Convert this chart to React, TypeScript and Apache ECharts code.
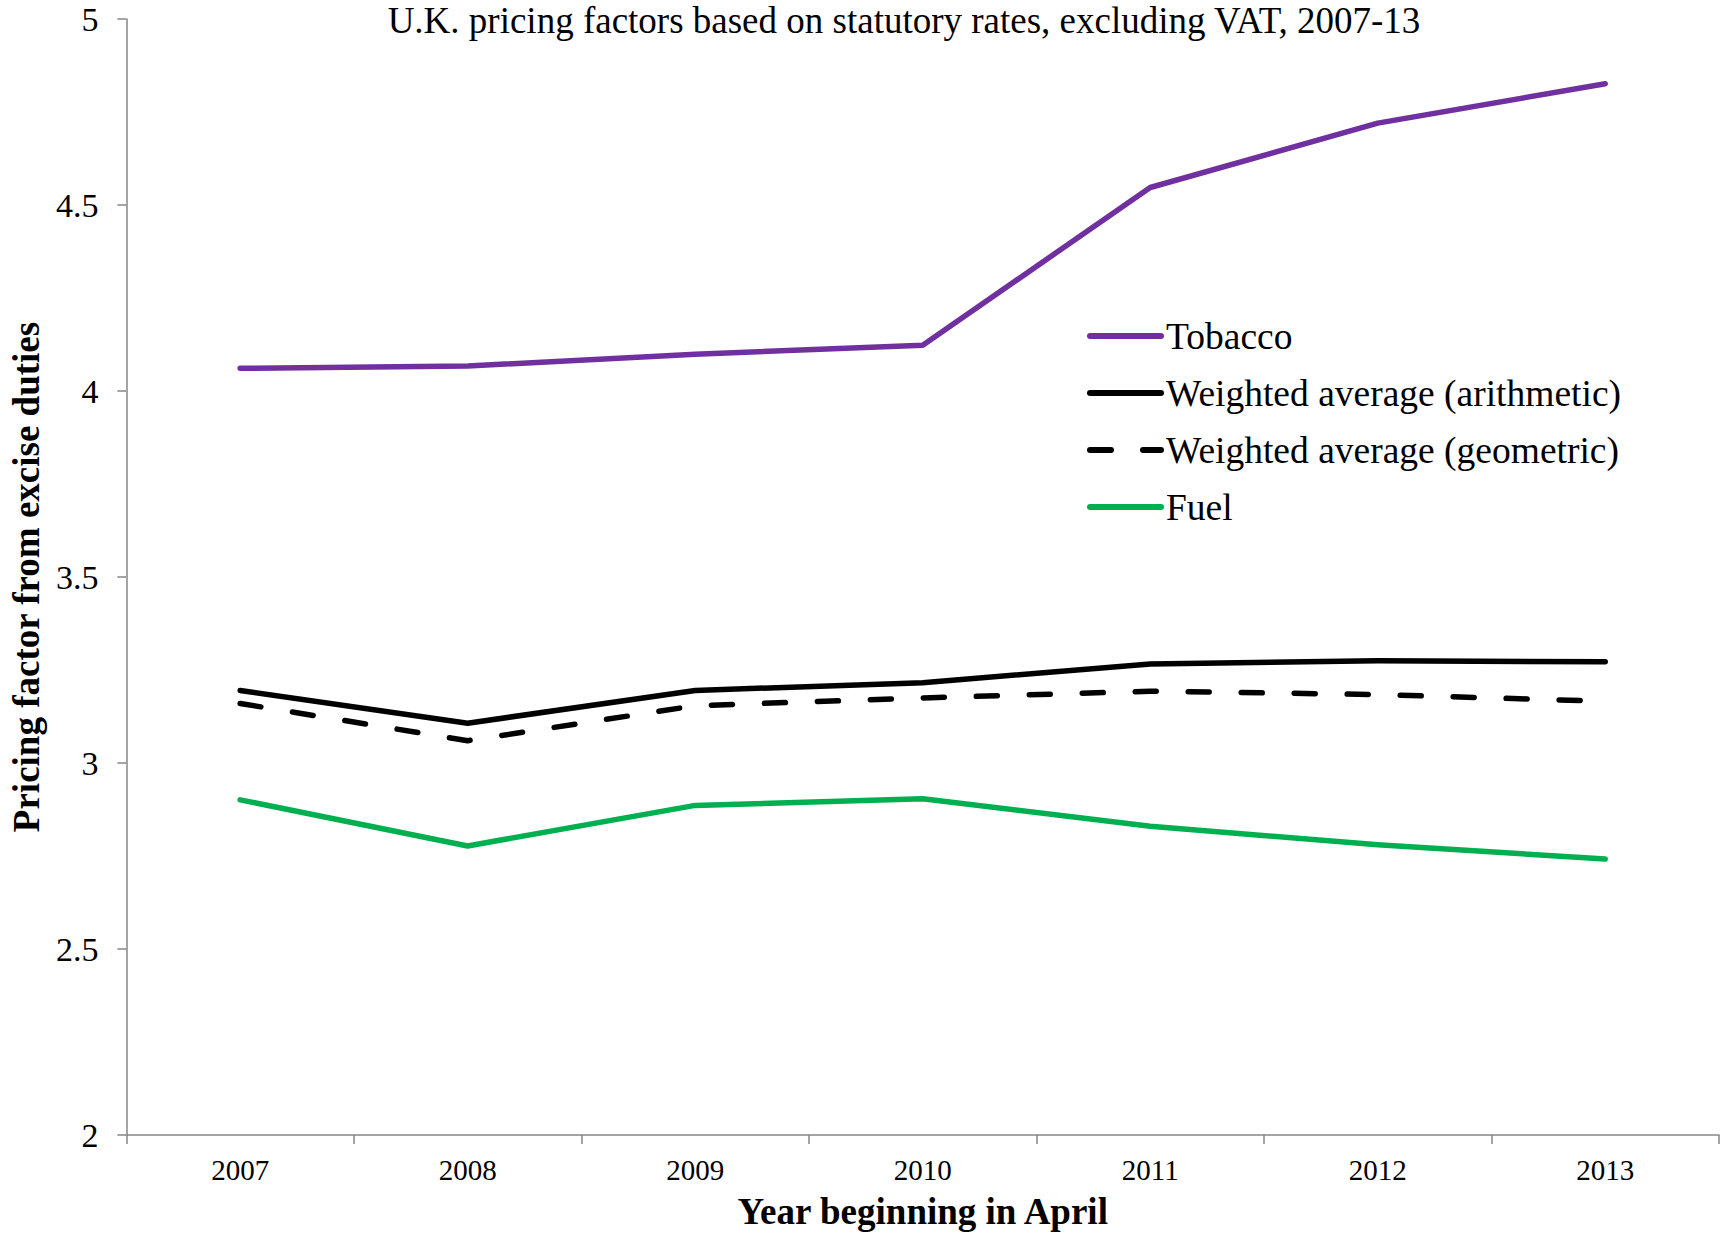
import React, { useEffect, useRef } from "react";
import * as echarts from "echarts";

const years = ["2007", "2008", "2009", "2010", "2011", "2012", "2013"];
const tobacco = [4.061, 4.067, 4.099, 4.123, 4.547, 4.72, 4.826];
const arithmetic = [3.195, 3.107, 3.195, 3.216, 3.266, 3.275, 3.272];
const geometric = [3.16, 3.06, 3.154, 3.175, 3.193, 3.184, 3.166];
const fuel = [2.901, 2.777, 2.886, 2.904, 2.83, 2.78, 2.742];

const FONT = "'Liberation Serif', 'Times New Roman', serif";

export default function App() {
  const ref = useRef<HTMLDivElement>(null);
  useEffect(() => {
    document.body.style.margin = "0";
    if (!ref.current) return;
    const chart = echarts.init(ref.current, null, { renderer: "svg" });
    const mk = (name: string, data: number[], color: string, dashed = false) => ({
      name,
      type: "line",
      data,
      symbol: "none",
      lineStyle: {
        color,
        width: 5.5,
        type: dashed ? [21, 32] : "solid",
        cap: "round",
        join: "round",
      },
      itemStyle: { color },
    });
    chart.setOption({
      animation: false,
      backgroundColor: "#ffffff",
      textStyle: { fontFamily: FONT, color: "#000" },
      title: {
        text: "U.K. pricing factors based on statutory rates, excluding VAT, 2007-13",
        left: 899,
        textAlign: "center",
        top: -3,
        textStyle: { fontFamily: FONT, fontSize: 37, fontWeight: "normal", color: "#000" },
      },
      grid: { left: 126, right: 2, top: 19, bottom: 98, containLabel: false },
      legend: {
        orient: "vertical",
        left: 1087,
        top: 317,
        itemWidth: 71,
        itemHeight: 16,
        itemGap: 19,
        padding: 0,
        itemStyle: { opacity: 0 },
        lineStyle: { width: 6, cap: "round" },
        textStyle: { fontFamily: FONT, fontSize: 37.5, lineHeight: 38, color: "#000" },
        data: [
          "Tobacco",
          "Weighted average (arithmetic)",
          "Weighted average (geometric)",
          "Fuel",
        ],
      },
      xAxis: {
        type: "category",
        data: years,
        boundaryGap: true,
        name: "Year beginning in April",
        nameLocation: "middle",
        nameGap: 58,
        nameTextStyle: { fontFamily: FONT, fontSize: 37, fontWeight: "bold", color: "#000" },
        axisLine: { lineStyle: { color: "#868686", width: 1.5 } },
        axisTick: { show: true, length: 9, interval: 0, lineStyle: { color: "#868686", width: 1.5 } },
        axisLabel: { fontFamily: FONT, fontSize: 29, color: "#000", margin: 20 },
        splitLine: { show: false },
      },
      yAxis: {
        type: "value",
        min: 2,
        max: 5,
        interval: 0.5,
        name: "Pricing factor from excise duties",
        nameLocation: "middle",
        nameGap: 74,
        nameTextStyle: { fontFamily: FONT, fontSize: 37, fontWeight: "bold", color: "#000" },
        axisLine: { show: true, lineStyle: { color: "#868686", width: 1.5 } },
        axisTick: { show: true, length: 9, lineStyle: { color: "#868686", width: 1.5 } },
        axisLabel: { fontFamily: FONT, fontSize: 34, color: "#000", margin: 28 },
        splitLine: { show: false },
      },
      series: [
        mk("Tobacco", tobacco, "#7030a0"),
        mk("Weighted average (arithmetic)", arithmetic, "#000000"),
        mk("Weighted average (geometric)", geometric, "#000000", true),
        mk("Fuel", fuel, "#00b050"),
      ],
    });
    return () => chart.dispose();
  }, []);
  return <div ref={ref} style={{ width: 1721, height: 1235 }} />;
}
